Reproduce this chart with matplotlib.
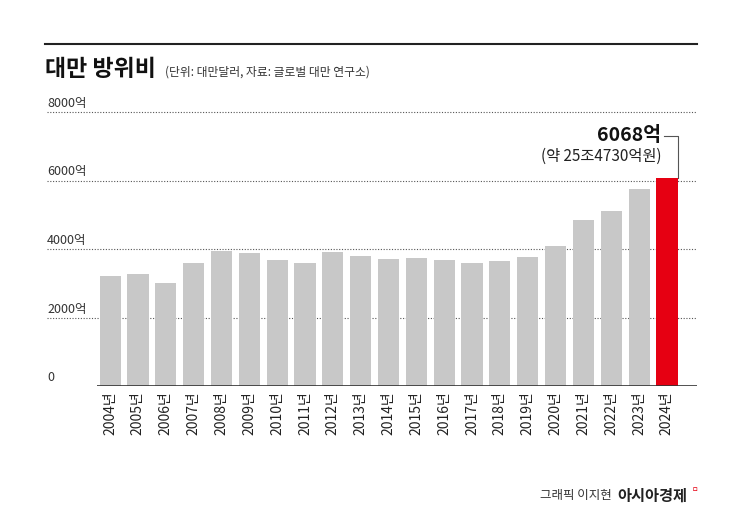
import matplotlib
matplotlib.use("Agg")
import matplotlib.pyplot as plt
from matplotlib import font_manager

names = {f.name for f in font_manager.fontManager.ttflist}
cjk = [n for n in ["Noto Sans CJK KR", "Noto Sans CJK JP", "Noto Sans CJK SC",
                   "Noto Sans CJK TC"] if n in names]
plt.rcParams["font.family"] = cjk + ["DejaVu Sans"]

years = [f"{y}년" for y in range(2004, 2025)]
values = [3200, 3270, 3000, 3600, 3950, 3870, 3680, 3580, 3900, 3800, 3700,
          3730, 3680, 3580, 3650, 3780, 4100, 4850, 5100, 5760, 6068]
yticks = [0, 2000, 4000, 6000, 8000]
ytick_labels = ["0", "2000억", "4000억", "6000억", "8000억"]

W, H = 745, 517
fig = plt.figure(figsize=(W / 100, H / 100), dpi=100)
ax = fig.add_axes([97 / W, 1 - 386 / H, 600 / W, 274 / H])

colors = ["#c8c8c8"] * (len(values) - 1) + ["#e60012"]
ax.bar(range(len(values)), values, width=0.76, color=colors, zorder=2)
ax.set_xlim(-0.47, 21.08)
ax.set_ylim(0, 8000)

for t, lab in zip(yticks, ytick_labels):
    if t > 0:
        ax.axhline(t, xmin=-0.083, xmax=1, color="#555555", lw=0.8,
                   ls=(0, (1, 1.5)), clip_on=False, zorder=1)
    fy = 1 - (386 - t / 8000 * 274) / H
    fig.text(47 / W, fy + 2 / H, lab, fontsize=9, color="#333333",
             ha="left", va="bottom")
ax.axhline(0, xmin=0, xmax=1, color="#333333", lw=1.2, zorder=3)

for s in ax.spines.values():
    s.set_visible(False)
ax.set_yticks([])
ax.set_xticks(range(len(values)))
ax.set_xticklabels(years, rotation=90, fontsize=10, color="#222222")
ax.tick_params(axis="x", length=0, pad=4)

# annotation for 2024
ax.plot([19.9, 20.4, 20.4], [7300, 7300, values[-1]], color="#555555", lw=0.8)
ax.text(19.8, 7300, "6068억", fontsize=14, fontweight="bold", ha="right",
        va="center", color="#111111")
ax.text(19.8, 6700, "(약 25조4730억원)", fontsize=11, ha="right",
        va="center", color="#222222")

# header
fig.add_artist(plt.Line2D([45 / W, 697 / W], [1 - 44 / H, 1 - 44 / H],
                          color="#222222", lw=1.5))
fig.text(45 / W, 1 - 76 / H, "대만 방위비", fontsize=16.5, fontweight="bold",
         color="#111111", va="baseline")
fig.text(165 / W, 1 - 76 / H, "(단위: 대만달러, 자료: 글로벌 대만 연구소)",
         fontsize=8.5, color="#333333", va="baseline")

fig.text(612 / W, 1 - 496 / H, "그래픽 이지현", fontsize=9, ha="right",
         va="center", color="#333333")
fig.text(617 / W, 1 - 496 / H, "아시아경제", fontsize=11, fontweight="bold",
         ha="left", va="center", color="#222222")
fig.text(692 / W, 1 - 490 / H, "ㅁ", fontsize=5, color="#e60012",
         ha="left", va="center")

fig.savefig("out.png", dpi=100, facecolor="white")
